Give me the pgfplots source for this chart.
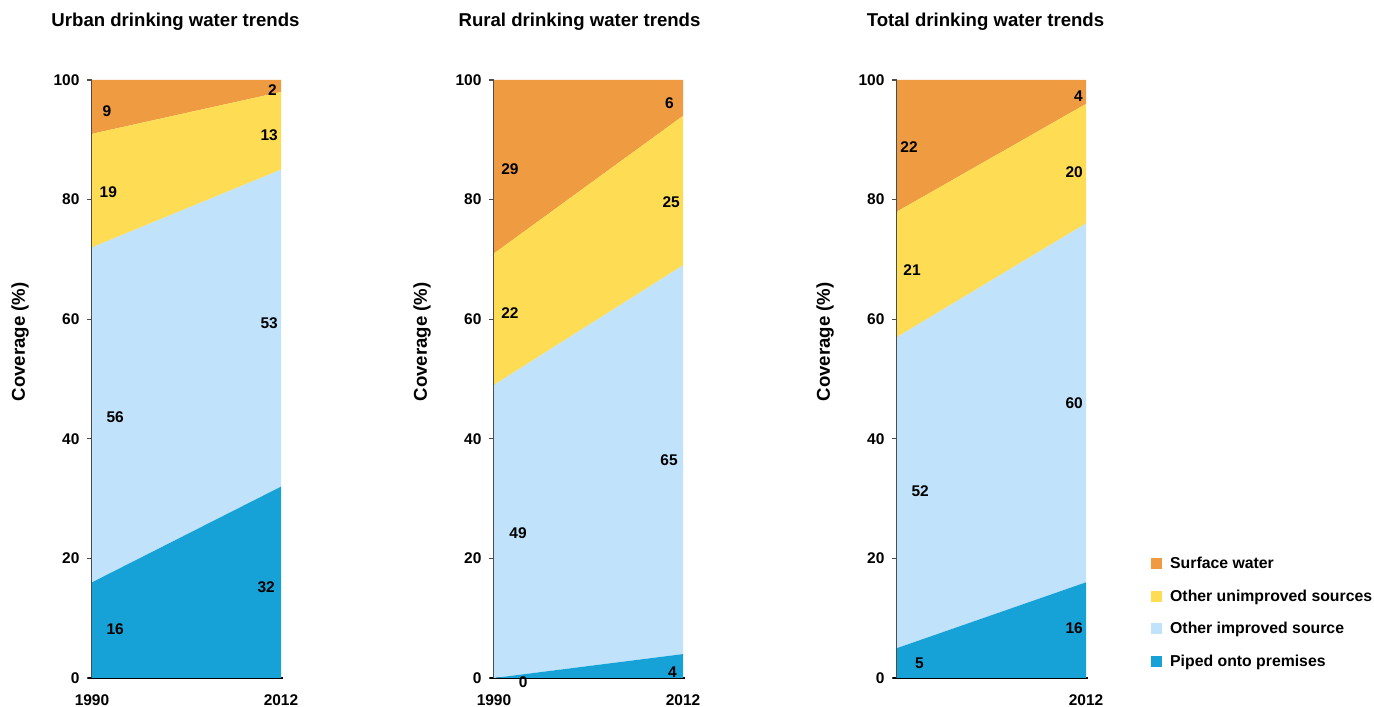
\documentclass[border=0pt]{standalone}
\usepackage{fontspec}
\setmainfont{Liberation Sans}
\usepackage{pgfplots}
\pgfplotsset{compat=1.18}
\usepackage{pgfplotstable}

\definecolor{surf}{RGB}{239,155,66}
\definecolor{unimp}{RGB}{254,220,84}
\definecolor{imp}{RGB}{192,226,250}
\definecolor{piped}{RGB}{22,162,214}

\pgfplotstableread{
year piped improved unimproved surface
1990 16 56 19 9
2012 32 53 13 2
}\urban
\pgfplotstableread{
year piped improved unimproved surface
1990 0 49 22 29
2012 4 65 25 6
}\rural
\pgfplotstableread{
year piped improved unimproved surface
1990 5 52 21 22
2012 16 60 20 4
}\total

\newcommand{\fs}{\bfseries\fontsize{15.5}{16}\selectfont}
\newcommand{\fl}{\bfseries\fontsize{15.8}{16}\selectfont}
\newcommand{\ft}{\bfseries\fontsize{18.6}{20}\selectfont}

\tikzset{
  lbl/.style={font=\fs, inner sep=0pt, anchor=center},
  rbl/.style={font=\fs, inner sep=0pt, anchor=east},
}

\pgfplotsset{
 wt/.style={
  scale only axis, width=189pt, height=598pt,
  anchor=south west,
  xmin=1990, xmax=2012, ymin=0, ymax=100,
  stack plots=y, clip=false,
  axis lines*=left,
  xtick={1990,2012},
  ytick={0,20,40,60,80,100},
  tick align=outside, major tick length=5pt,
  x tick style={draw=none},
  y tick style={draw=black!70, line width=1.2pt},
  x axis line style={black, line width=1.5pt, shorten <=-4pt, shorten >=-2pt},
  y axis line style={black!70, line width=1.5pt},
  tick label style={font=\fs},
  /pgf/number format/assume math mode=true,
  xticklabel style={anchor=center, yshift=-17pt},
  yticklabel style={xshift=-4pt},
  ylabel={Coverage (\%)},
  ylabel style={at={(rel axis cs:0,0.562)}, yshift=72pt, anchor=center, font=\ft},
  title style={at={(rel axis cs:0.5,1)}, anchor=center, yshift=52pt, font=\ft},
  every axis plot/.append style={draw=none},
  legend image code/.code={\fill[##1] (0pt,-5.5pt) rectangle (11pt,5.5pt);},
 }
}

\begin{document}
\begin{tikzpicture}
% Urban
\begin{axis}[wt, at={(92pt,29pt)}, xticklabels={1990,2012},
  title={Urban drinking water trends}, title style={xshift=-11pt}]
\addplot[fill=piped] table[x=year,y=piped]{\urban} \closedcycle;
\addplot[fill=imp] table[x=year,y=improved]{\urban} \closedcycle;
\addplot[fill=unimp] table[x=year,y=unimproved]{\urban} \closedcycle;
\addplot[fill=surf] table[x=year,y=surface]{\urban} \closedcycle;
\coordinate (ua) at (axis cs:1991.75,94.8);
\coordinate (ub) at (axis cs:1991.9,81.3);
\coordinate (uc) at (axis cs:1992.7,43.6);
\coordinate (ud) at (axis cs:1992.7,8.2);
\coordinate (ue) at (axis cs:2011.54,98.3);
\coordinate (uf) at (axis cs:2011.65,90.7);
\coordinate (ug) at (axis cs:2011.65,59.4);
\coordinate (uh) at (axis cs:2011.3,15.2);
\end{axis}
\node[lbl] at (ua) {9};
\node[lbl] at (ub) {19};
\node[lbl] at (uc) {56};
\node[lbl] at (ud) {16};
\node[rbl] at (ue) {2};
\node[rbl] at (uf) {13};
\node[rbl] at (ug) {53};
\node[rbl] at (uh) {32};
% Rural
\begin{axis}[wt, at={(494pt,29pt)}, xticklabels={1990,2012},
  title={Rural drinking water trends}, title style={xshift=-9pt}]
\addplot[fill=piped] table[x=year,y=piped]{\rural} \closedcycle;
\addplot[fill=imp] table[x=year,y=improved]{\rural} \closedcycle;
\addplot[fill=unimp] table[x=year,y=unimproved]{\rural} \closedcycle;
\addplot[fill=surf] table[x=year,y=surface]{\rural} \closedcycle;
\coordinate (ra) at (axis cs:1991.86,85.1);
\coordinate (rb) at (axis cs:1991.86,61.0);
\coordinate (rc) at (axis cs:1992.8,24.2);
\coordinate (rd) at (axis cs:1993.4,-0.7);
\coordinate (re) at (axis cs:2010.95,96.2);
\coordinate (rf) at (axis cs:2011.65,79.6);
\coordinate (rg) at (axis cs:2011.4,36.5);
\coordinate (rh) at (axis cs:2011.3,1.0);
\end{axis}
\node[lbl] at (ra) {29};
\node[lbl] at (rb) {22};
\node[lbl] at (rc) {49};
\node[lbl] at (rd) {0};
\node[rbl] at (re) {6};
\node[rbl] at (rf) {25};
\node[rbl] at (rg) {65};
\node[rbl] at (rh) {4};
% Total
\begin{axis}[wt, at={(897pt,29pt)}, xticklabels={,2012},
  title={Total drinking water trends}, title style={xshift=-6pt},
  reverse legend,
  legend cell align=left,
  legend style={at={(rel axis cs:1.328,0.209)}, anchor=north west, draw=none, fill=none,
    font=\fl, row sep=15.5pt, /tikz/every odd column/.append style={column sep=6pt}}]
\addplot[fill=piped] table[x=year,y=piped]{\total} \closedcycle;
\addlegendentry{Piped onto premises}
\addplot[fill=imp] table[x=year,y=improved]{\total} \closedcycle;
\addlegendentry{Other improved source}
\addplot[fill=unimp] table[x=year,y=unimproved]{\total} \closedcycle;
\addlegendentry{Other unimproved sources}
\addplot[fill=surf] table[x=year,y=surface]{\total} \closedcycle;
\addlegendentry{Surface water}
\coordinate (ta) at (axis cs:1991.4,88.8);
\coordinate (tb) at (axis cs:1991.75,68.2);
\coordinate (tc) at (axis cs:1992.7,31.3);
\coordinate (td) at (axis cs:1992.6,2.5);
\coordinate (te) at (axis cs:2011.65,97.3);
\coordinate (tf) at (axis cs:2011.65,84.6);
\coordinate (tg) at (axis cs:2011.65,46.0);
\coordinate (th) at (axis cs:2011.65,8.4);
\end{axis}
\node[lbl] at (ta) {22};
\node[lbl] at (tb) {21};
\node[lbl] at (tc) {52};
\node[lbl] at (td) {5};
\node[rbl] at (te) {4};
\node[rbl] at (tf) {20};
\node[rbl] at (tg) {60};
\node[rbl] at (th) {16};
\pgfresetboundingbox
\path (0,0) rectangle (1374pt,707pt);
\end{tikzpicture}
\end{document}
